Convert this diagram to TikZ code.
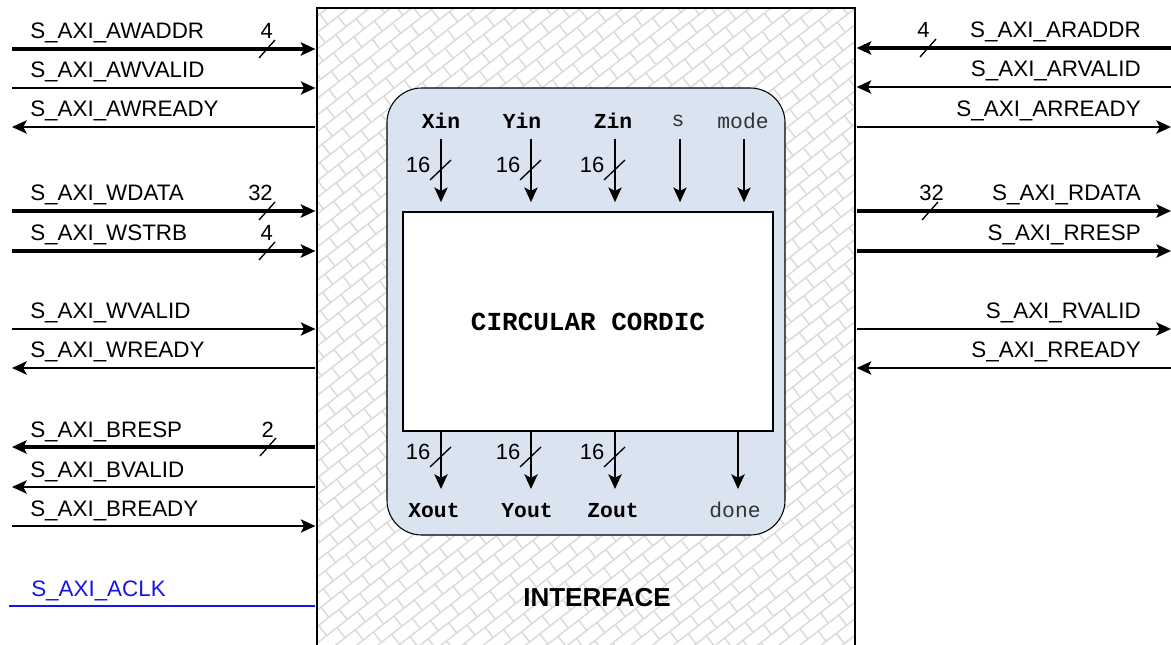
\documentclass[tikz,border=0pt]{standalone}
\usepackage{fontspec}
\setmainfont{Liberation Sans}
\setmonofont{Liberation Mono}
\usetikzlibrary{arrows.meta}
\definecolor{color_cordic_bg}{RGB}{218,227,240}
\definecolor{color_hatch}{RGB}{218,218,218}
\definecolor{color_aclk}{RGB}{20,20,240}
\def\brick{13}
\def\brickdash{9.75pt}

\begin{document}
\begin{tikzpicture}[x=0.75pt, y=-0.75pt,
    >={Stealth[length=11pt, width=10pt, inset=2.5pt]},
    sigin/.style={line width=1.2pt, ->, shorten >=1pt},
    sigout/.style={line width=1.2pt, <-, shorten >=1pt},
    busin/.style={line width=2.6pt, ->, shorten >=1pt},
    busout/.style={line width=2.6pt, <-, shorten >=1pt},
    port/.style={line width=1pt, ->},
    widthmark/.style={line width=1pt},
    siglabel/.style={font=\fontsize{16.8}{18}\selectfont, inner sep=0pt},
    widthlabel/.style={font=\fontsize{16.5}{18}\selectfont, inner sep=0pt},
    portb/.style={font=\ttfamily\bfseries\fontsize{16}{17}\selectfont, inner sep=0pt},
    portn/.style={font=\ttfamily\fontsize{16}{17}\selectfont, text=black!80, inner sep=0pt},
    hatch/.style={color_hatch, line width=1.1pt}]
    \useasboundingbox (0,0) rectangle (1171,645);

    % interface block
    \node[minimum width=403.5pt, minimum height=489pt, inner sep=0pt] (iface) at (586,334) {};
    % brick hatch
    \begin{scope}
        \clip (iface.north west) rectangle (iface.south east);
        \begin{scope}[shift={(586,334)}, rotate=38]
            \foreach \k in {-35,...,35}
                \draw[hatch] (-455,\k*\brick) -- (455,\k*\brick);
            \foreach \j in {-35,...,35}{
                \ifodd\j \def\ph{\brickdash}\else\def\ph{0pt}\fi
                \draw[hatch, dash pattern=on \brickdash off \brickdash, dash phase=\ph]
                    (\j*\brick,-455) -- (\j*\brick,455);
            }
        \end{scope}
    \end{scope}
    \draw[line width=1.5pt] (iface.north west) rectangle (iface.south east);
    \node[font=\bfseries\fontsize{19.5}{22}\selectfont, inner sep=0pt] (iflabel) at (597,598) {INTERFACE};

    % cordic block
    \node[draw, line width=0.8pt, fill=color_cordic_bg, rounded corners=26pt,
        minimum width=298.5pt, minimum height=335.25pt] (cordicbox) at (586,311.5) {};
    \node[draw, line width=0.8pt, fill=white, inner sep=0pt, minimum width=277.5pt, minimum height=164.25pt,
        font=\ttfamily\bfseries\fontsize{19.5}{22}\selectfont] (core) at (588,321.5) {CIRCULAR CORDIC};

    % left side signals
    \foreach \sname/\y/\sty in {AWADDR/49/busin, AWVALID/88/sigin, AWREADY/127/sigout,
        WDATA/211/busin, WSTRB/251/busin, WVALID/329/sigin, WREADY/368/sigout,
        BRESP/447/busout, BVALID/487/sigout, BREADY/526/sigin}{
        \coordinate (l-\sname) at (12,\y);
        \node[siglabel, anchor=base west] (ll-\sname) at (30,\y-10) {S\_AXI\_\sname};
        \draw[\sty] (l-\sname) -- (l-\sname -| iface.west);
    }
    \coordinate (l-ACLK) at (9,606);
    \node[siglabel, anchor=base west, text=color_aclk] (ll-ACLK) at (31,596) {S\_AXI\_ACLK};
    \draw[color_aclk, line width=1.2pt, shorten >=1.5pt] (l-ACLK) -- (l-ACLK -| iface.west);

    % right side signals
    \foreach \sname/\y/\sty in {ARADDR/48/busin, ARVALID/87/sigin, ARREADY/127/sigout,
        RDATA/211/busout, RRESP/251/busout, RVALID/329/sigout, RREADY/368/sigin}{
        \coordinate (r-\sname) at (1171,\y);
        \node[siglabel, anchor=base east] (rl-\sname) at (1141,\y-10) {S\_AXI\_\sname};
        \draw[\sty] (r-\sname) -- (r-\sname -| iface.east);
    }

    % bus widths
    \foreach \sname/\x/\y in {AWADDR/267/49, WDATA/267/211, WSTRB/267/251,
        BRESP/268/447, ARADDR/928/48, RDATA/930/211}{
        \coordinate (w-\sname) at (\x,\y);
        \draw[widthmark] ([shift={(-8,9)}]w-\sname) -- ([shift={(8,-9)}]w-\sname);
    }
    \foreach \sname/\w in {AWADDR/4, WDATA/32, WSTRB/4, BRESP/2}
        \node[widthlabel, anchor=base east] (wl-\sname) at ([shift={(6,-10)}]w-\sname) {\w};
    \foreach \sname/\w in {ARADDR/4, RDATA/32}
        \node[widthlabel, anchor=base west] (wl-\sname) at ([shift={(-11,-10)}]w-\sname) {\w};

    % cordic inputs
    \foreach \pname/\ptext/\lx/\ax/\pstyle in {xin/Xin/441/441/portb, yin/Yin/522/531/portb,
        zin/Zin/613/615/portb, s/s/678/680/portn, mode/mode/743/744/portn}{
        \node[\pstyle] (\pname) at (\lx,121) {\ptext};
        \coordinate (\pname-a) at (\ax,139);
        \draw[port, shorten >=7pt] (\pname-a) -- (\pname-a |- core.north);
    }
    % cordic outputs
    \foreach \pname/\ptext/\lx/\ax/\pstyle in {xout/Xout/434/441/portb, yout/Yout/527/531/portb,
        zout/Zout/613/615/portb, done/done/735/738/portn}{
        \node[\pstyle] (\pname) at (\lx,510) {\ptext};
        \coordinate (\pname-a) at (\ax,489);
        \draw[port] (\pname-a |- core.south) -- (\pname-a);
    }

    % 16 bit marks
    \foreach \pname/\x/\y in {xin/441/170, yin/531/170, zin/615/170, xout/441/457, yout/531/457, zout/615/457}{
        \coordinate (m-\pname) at (\x,\y);
        \draw[widthmark] ([shift={(-11,10)}]m-\pname) -- ([shift={(10,-10)}]m-\pname);
        \node[widthlabel] (ml-\pname) at ([shift={(-23,-5)}]m-\pname) {16};
    }
\end{tikzpicture}
\end{document}
